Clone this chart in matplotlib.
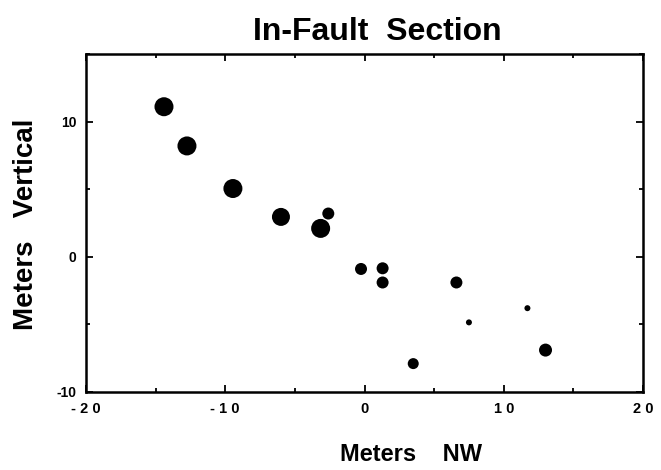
import matplotlib.pyplot as plt
from matplotlib.ticker import MultipleLocator

plt.rcParams['font.family'] = ['Liberation Sans', 'DejaVu Sans']
plt.rcParams['font.weight'] = 'bold'

# positions (meters)
meters_nw = [-14.4, -12.75, -9.45, -6.0, -3.15, -2.6, -0.25, 1.3, 1.3, 6.6,
             11.7, 7.5, 13.0, 3.5]
meters_vertical = [11.1, 8.2, 5.05, 2.95, 2.1, 3.2, -0.9, -0.85, -1.9, -1.9,
                   -3.8, -4.85, -6.9, -7.9]
# dot diameter in pixels, as printed
dot_px = [19, 19, 19, 18, 19, 12, 12, 12, 12, 12, 6, 6, 13, 11]

x_ticks = [-20, -10, 0, 10, 20]
x_tick_labels = ['- 2 0', '- 1 0', '0', '1 0', '2 0']
y_ticks = [-10, 0, 10]
y_tick_labels = ['-10', '0', '10']

W, H = 661, 470
fig = plt.figure(figsize=(W / 100, H / 100), dpi=100)
ax = fig.add_axes([86 / W, 1 - 392 / H, 557 / W, 338 / H])

sizes = [(d * 72 / 100) ** 2 for d in dot_px]
ax.scatter(meters_nw, meters_vertical, s=sizes, c='black', linewidths=0)

ax.set_xlim(-20, 20)
ax.set_ylim(-10, 15)
ax.set_xticks(x_ticks)
ax.set_xticklabels(x_tick_labels, fontsize=10.5, fontweight='bold')
ax.set_yticks(y_ticks)
ax.set_yticklabels(y_tick_labels, fontsize=10, fontweight='bold')
ax.xaxis.set_minor_locator(MultipleLocator(5))
ax.yaxis.set_minor_locator(MultipleLocator(5))
ax.tick_params(which='both', direction='in', top=True, right=True, width=1.3)
ax.tick_params(which='major', length=5, pad=7)
ax.tick_params(which='minor', length=3)
for s in ax.spines.values():
    s.set_linewidth(1.8)

fig.text(377 / W, 1 - 40 / H, 'In-Fault  Section', fontsize=23,
         fontweight='bold', ha='center', va='baseline')
fig.text(411 / W, 1 - 461 / H, 'Meters    NW', fontsize=17,
         fontweight='bold', ha='center', va='baseline')
fig.text(33 / W, 1 - 224 / H, 'Meters   Vertical', fontsize=20,
         fontweight='bold', ha='center', va='baseline', rotation=90,
         rotation_mode='anchor')

fig.savefig('out.png', dpi=100)
